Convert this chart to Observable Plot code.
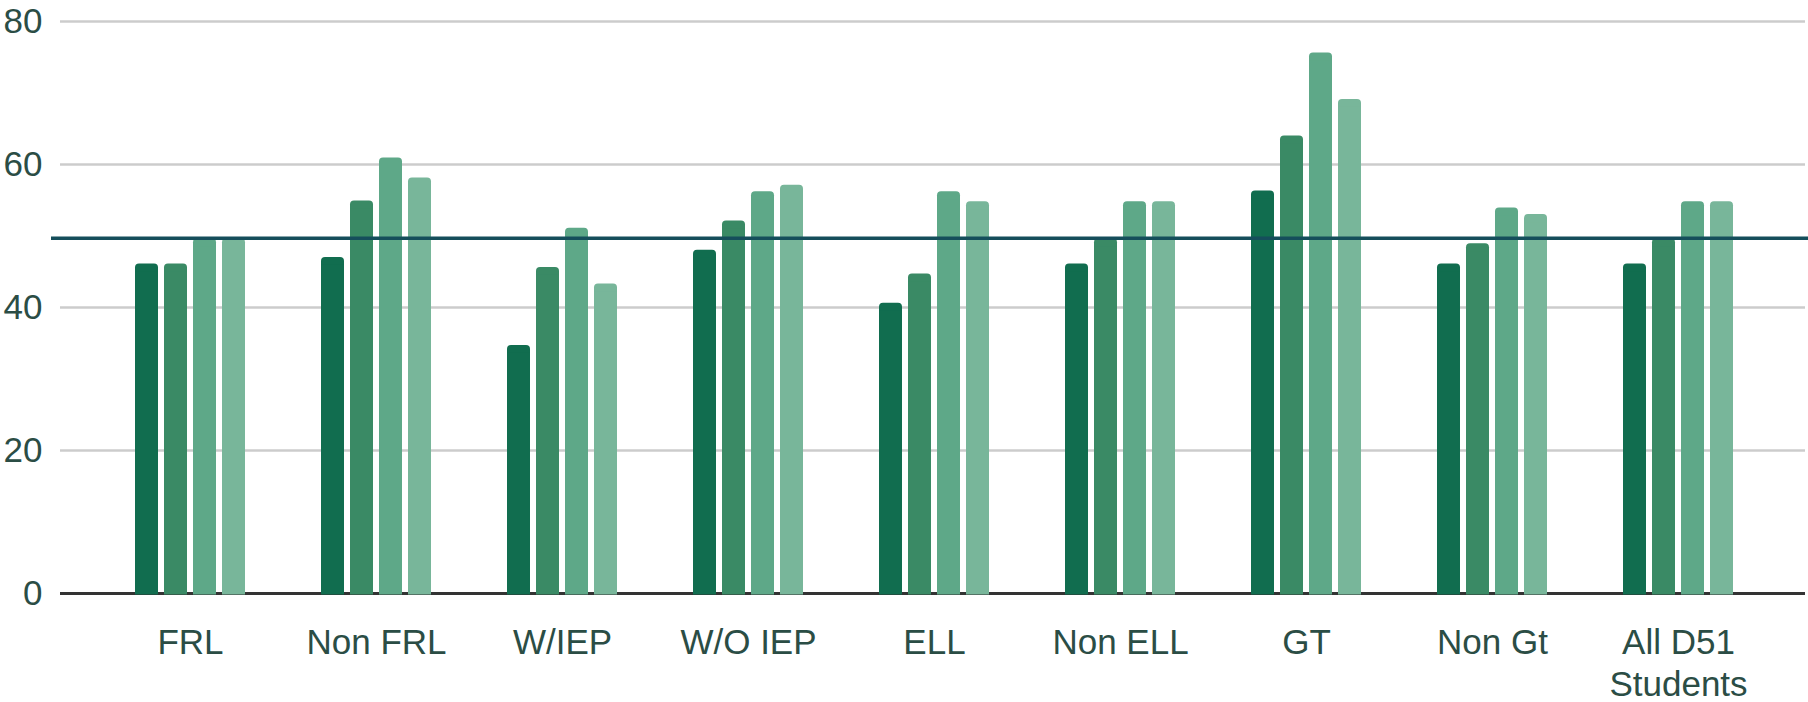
<!DOCTYPE html>
<html><head><meta charset="utf-8">
<script src="https://cdn.jsdelivr.net/npm/d3@7"></script>
<script src="https://cdn.jsdelivr.net/npm/@observablehq/plot@0.6"></script>
<style>
html,body{margin:0;padding:0;background:#fff}
#chart{position:relative;width:1808px;height:702px}
#chart svg{position:absolute;left:0;top:0}
</style>
</head><body><div id="chart"></div>
<script>
const categories = ["FRL","Non FRL","W/IEP","W/O IEP","ELL","Non ELL","GT","Non Gt","All D51 Students"];
const categoryLabels = ["FRL","Non FRL","W/IEP","W/O IEP","ELL","Non ELL","GT","Non Gt","All D51\nStudents"];
const series = ["Series 1","Series 2","Series 3","Series 4"];
const series1 = [46.1,47.0,34.7,48.0,40.6,46.1,56.3,46.1,46.1];
const series2 = [46.1,54.9,45.6,52.1,44.7,49.6,64.0,48.9,49.6];
const series3 = [49.6,60.9,51.1,56.2,56.2,54.8,75.6,53.9,54.8];
const series4 = [49.6,58.1,43.3,57.1,54.8,54.8,69.1,53.0,54.8];
const referenceValue = [49.7];
const yTicks = [0,20,40,60,80];
const colors = ["#116d4f","#3a8a65","#5ea888","#78b69a"];

const seriesValues = [series1, series2, series3, series4];
const data = [];
categories.forEach((c, i) => {
  series.forEach((s, j) => data.push({category: c, series: s, value: seriesValues[j][i]}));
});
const labelOf = new Map(categories.map((c, i) => [c, categoryLabels[i]]));
const textColor = "#2b4d45";

const common = {
  width: 1808, height: 702,
  marginLeft: 60, marginRight: 3, marginTop: 21, marginBottom: 109,
  y: {domain: [0, 80], ticks: yTicks, tickSize: 0, tickPadding: 18, label: null}
};
const fontFamily = "'Liberation Sans', Arial, sans-serif";

// Layer 1: background grid, baseline, y tick labels
const background = Plot.plot({
  ...common,
  style: {fontFamily, fontSize: "35px", color: textColor, background: "#fff"},
  x: {axis: null},
  marks: [
    Plot.ruleY(yTicks.slice(1), {stroke: "#cccccc", strokeWidth: 2.5}),
    Plot.ruleY([0], {stroke: "#333333", strokeWidth: 3})
  ]
});

// Layer 2: grouped bars (faceted by category) and category labels
const bars = Plot.plot({
  ...common,
  style: {fontFamily, fontSize: "35px", color: textColor, background: "transparent"},
  fx: {domain: categories, paddingInner: 0.41, paddingOuter: 0, insetLeft: 71.7, insetRight: 68.3, axis: null, label: null},
  x: {domain: series, paddingInner: 0.21, paddingOuter: 0, axis: null},
  y: {...common.y, axis: null},
  color: {domain: series, range: colors},
  marks: [
    Plot.barY(data, {fx: "category", x: "series", y: "value", fill: "series", rx: 4}),
    Plot.barY(data, {fx: "category", x: "series", y: "value", fill: "series", insetTop: 8, insetBottom: -1.5}),
    Plot.text(categories, {fx: d => d, text: d => labelOf.get(d), frameAnchor: "bottom", lineAnchor: "top", dy: 31, lineHeight: 1.2, fill: textColor, fontSize: 35})
  ]
});

// Layer 3: reference line over the bars
const reference = Plot.plot({
  ...common,
  style: {background: "transparent"},
  x: {axis: null},
  y: {...common.y, axis: null},
  marks: [
    Plot.ruleY(referenceValue, {stroke: "#154e5b", strokeWidth: 3.5, insetLeft: -9, insetRight: -3})
  ]
});

const root = document.getElementById("chart");
root.appendChild(background);
root.appendChild(bars);
root.appendChild(reference);
</script>
</body></html>
